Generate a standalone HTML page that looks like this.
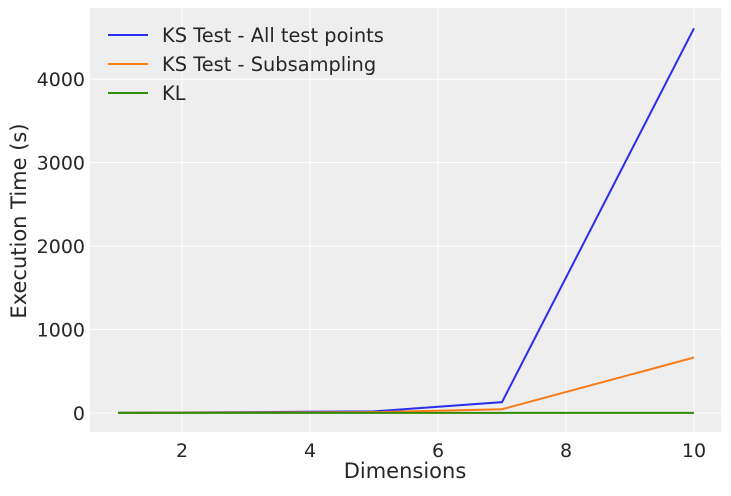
<!DOCTYPE html>
<html><head><meta charset="utf-8"><style>
body{margin:0;background:#fff;font-family:"Liberation Sans","DejaVu Sans",sans-serif}
text{font-family:"DejaVu Sans","Liberation Sans",sans-serif;fill:#262626}
</style></head><body>
<svg id="chart" width="731" height="491">
<rect x="90" y="8" width="631" height="424" fill="#eeeeee"/>
<g id="grid"></g><g id="lines"></g><g id="ticks"></g>
<text x="405" y="478" font-size="21" text-anchor="middle">Dimensions</text>
<text transform="translate(26,221) rotate(-90)" font-size="21" text-anchor="middle">Execution Time (s)</text>
<g id="legend"></g>
</svg>
<script>
const xs=[1,2,3,4,5,7,10];
const ksAll=[3,6,10,15,20,130,4610];
const ksSub=[2,4,6,8,10,45,665];
const kl=[1,1,1,1,1,1,1];
const seriesNames=["KS Test - All test points","KS Test - Subsampling","KL"];
const colors=["#2a2eec","#fa7c17","#328c06"];
const xTicks=[2,4,6,8,10];
const yTicks=[0,1000,2000,3000,4000];
const X=v=>118+(v-1)*64;
const Y=v=>413-v*0.08345;
const ns="http://www.w3.org/2000/svg";
function mk(t,a,p){const e=document.createElementNS(ns,t);for(const k in a)e.setAttribute(k,a[k]);p.appendChild(e);return e;}
const g=document.getElementById('grid'),tk=document.getElementById('ticks'),L=document.getElementById('lines'),lg=document.getElementById('legend');
xTicks.forEach(v=>{const l=mk('line',{x1:X(v),x2:X(v),y1:8,y2:432,stroke:'#fff','stroke-width':1},g);

const t=mk('text',{x:X(v),y:457,'font-size':19,'text-anchor':'middle'},tk);t.textContent=v;
});
yTicks.forEach(v=>{const l=mk('line',{x1:90,x2:721,y1:Y(v),y2:Y(v),stroke:'#fff','stroke-width':1},g);

const t=mk('text',{x:85,y:Y(v)+7,'font-size':19,'text-anchor':'end'},tk);t.textContent=v;
});
[ksAll,ksSub,kl].forEach((s,i)=>{const p=mk('polyline',{points:xs.map((x,j)=>X(x)+','+Y(s[j])).join(' '),fill:'none',stroke:colors[i],'stroke-width':2},L);

const ln=mk('line',{x1:108,x2:148,y1:35+i*29,y2:35+i*29,stroke:colors[i],'stroke-width':2},lg);

const t=mk('text',{x:162,y:42+i*29,'font-size':19.4},lg);t.textContent=seriesNames[i];
});
</script>
</body></html>
